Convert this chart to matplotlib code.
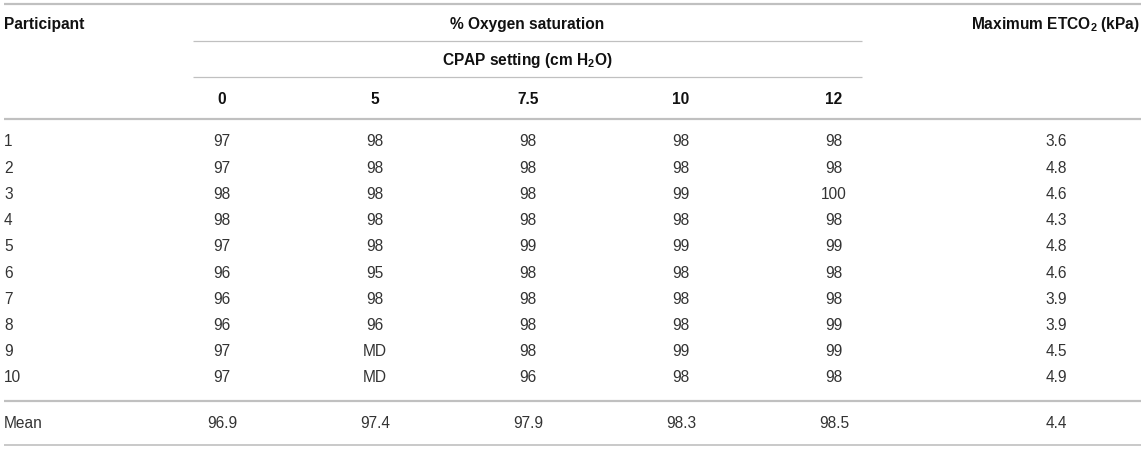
import matplotlib.pyplot as plt

plt.rcParams['font.family'] = ['Liberation Sans', 'DejaVu Sans']
plt.rcParams['mathtext.default'] = 'regular'

# --------------------------------------------------
# Table data
# --------------------------------------------------
cpap_settings = ["0", "5", "7.5", "10", "12"]
participants = ["1", "2", "3", "4", "5", "6", "7", "8", "9", "10"]

spo2_cpap_0 = ["97", "97", "98", "98", "97", "96", "96", "96", "97", "97"]
spo2_cpap_5 = ["98", "98", "98", "98", "98", "95", "98", "96", "MD", "MD"]
spo2_cpap_7_5 = ["98", "98", "98", "98", "99", "98", "98", "98", "98", "96"]
spo2_cpap_10 = ["98", "98", "99", "98", "99", "98", "98", "98", "99", "98"]
spo2_cpap_12 = ["98", "98", "100", "98", "99", "98", "98", "99", "99", "98"]
max_etco2 = ["3.6", "4.8", "4.6", "4.3", "4.8", "4.6", "3.9", "3.9", "4.5", "4.9"]

mean_spo2 = ["96.9", "97.4", "97.9", "98.3", "98.5"]
mean_etco2 = "4.4"

W, H = 1145, 449
fig = plt.figure(figsize=(W / 100, H / 100), dpi=100)
ax = fig.add_axes([0, 0, 1, 1])
ax.set_xlim(0, W)
ax.set_ylim(H, 0)
ax.axis("off")

line_col = "#c0c0c0"
head_col = "#111111"
body_col = "#333333"
fs = 11.2

# column layout
x_part = 4
x_cols = [222 + i * 153 for i in range(len(cpap_settings))]
x_etco2 = 1056
x_left, x_right = 4, 1141
x_grp0, x_grp1 = 193, 862

# --------------------------------------------------
# Header
# --------------------------------------------------
ax.hlines(4, x_left, x_right, color=line_col, lw=1.6)
ax.text(x_part, 24, "Participant", ha="left", va="center",
        fontsize=fs, fontweight="bold", color=head_col)
ax.text((x_grp0 + x_grp1) / 2, 24, "% Oxygen saturation", ha="center",
        va="center", fontsize=fs, fontweight="bold", color=head_col)
ax.text(x_right - 1, 24, "Maximum ETCO$_2$ (kPa)", ha="right", va="center",
        fontsize=fs, fontweight="bold", color=head_col)
ax.hlines(41, x_grp0, x_grp1, color=line_col, lw=0.9)
ax.text((x_grp0 + x_grp1) / 2, 60, "CPAP setting (cm H$_2$O)", ha="center",
        va="center", fontsize=fs, fontweight="bold", color=head_col)
ax.hlines(77, x_grp0, x_grp1, color=line_col, lw=0.9)
for x, s in zip(x_cols, cpap_settings):
    ax.text(x, 100, s, ha="center", va="center", fontsize=fs,
            fontweight="bold", color=head_col)
ax.hlines(118.5, x_left, x_right, color=line_col, lw=1.6)

# --------------------------------------------------
# Body
# --------------------------------------------------
columns = [spo2_cpap_0, spo2_cpap_5, spo2_cpap_7_5, spo2_cpap_10, spo2_cpap_12]
for i, p in enumerate(participants):
    y = 142 + i * 26.2
    ax.text(x_part, y, p, ha="left", va="center", fontsize=fs, color=body_col)
    for x, col in zip(x_cols, columns):
        ax.text(x, y, col[i], ha="center", va="center", fontsize=fs,
                color=body_col)
    ax.text(x_etco2, y, max_etco2[i], ha="center", va="center",
            fontsize=fs, color=body_col)

ax.hlines(401, x_left, x_right, color=line_col, lw=1.6)
ax.text(x_part, 423, "Mean", ha="left", va="center", fontsize=fs,
        color=body_col)
for x, m in zip(x_cols, mean_spo2):
    ax.text(x, 423, m, ha="center", va="center", fontsize=fs, color=body_col)
ax.text(x_etco2, 423, mean_etco2, ha="center", va="center", fontsize=fs,
        color=body_col)
ax.hlines(445, x_left, x_right, color=line_col, lw=1.2)

fig.savefig("out.png", dpi=100)
